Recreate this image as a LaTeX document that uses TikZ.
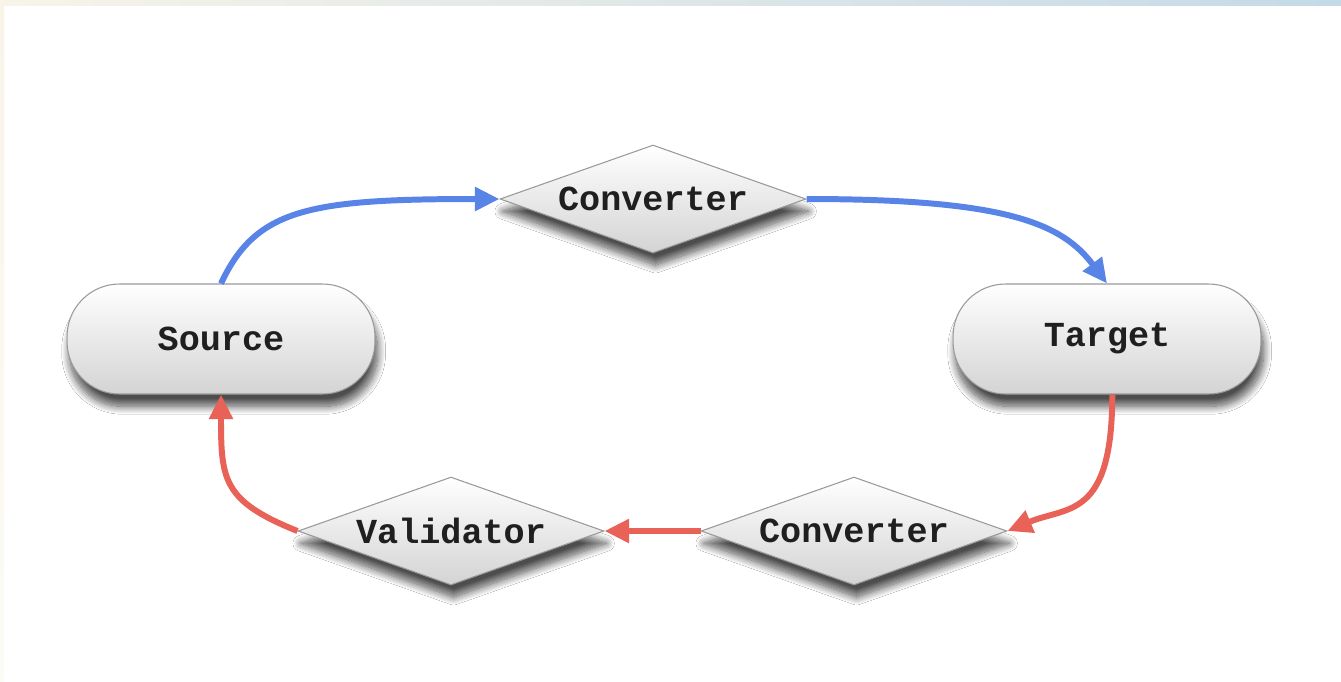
\documentclass[tikz,border=0pt]{standalone}
\usepackage{fontspec}
\setmonofont{Liberation Mono}
\usetikzlibrary{shapes.geometric, arrows.meta, shadows.blur}

\definecolor{azul}{RGB}{88,132,232}
\definecolor{vermelho}{RGB}{232,98,88}
\definecolor{creme}{RGB}{248,244,232}
\definecolor{celeste}{RGB}{196,218,232}

\begin{document}
\begin{tikzpicture}[x=0.02cm, y=-0.02cm,
    caixa/.style={draw=black!40, line width=0.6pt, top color=white, bottom color=black!17,
      blur shadow={shadow xshift=1.5pt, shadow yshift=-7pt, shadow opacity=70,
        shadow blur radius=4.5pt, shadow blur steps=14},
      font=\ttfamily\bfseries\fontsize{20}{24}\selectfont, text=black!88},
    extremo/.style={caixa, rectangle, rounded corners=1.05cm, minimum width=6.16cm, minimum height=2.2cm},
    etapa/.style={caixa, diamond, aspect=2.83, inner sep=0pt, minimum width=6.12cm, minimum height=2.16cm},
    fluxo/.style={line width=3.4pt, -{Triangle[length=14pt, width=13pt]}},
    ida/.style={fluxo, azul},
    volta/.style={fluxo, vermelho}]
  \useasboundingbox (0,0) rectangle (1341,681);

  % Moldura de fundo
  \fill[white] (0,0) rectangle (1341,681);
  \shade[left color=creme, right color=celeste] (0,0) rectangle (1341,5);
  \shade[top color=creme, bottom color=creme!40] (0,5) rectangle (4,681);

  % Nos
  \node[extremo] (src) at (221,339) {Source};
  \node[extremo] (tgt) at (1107,339) {Target};
  \node[etapa] (conv1) at (653,199) {Converter};
  \node[etapa] (conv2) at (854,531) {Converter};
  \node[etapa] (val) at (451,531) {Validator};

  % Caminho de ida
  \draw[ida] (src.north) .. controls +(35,-75) and +(-190,0) .. (conv1.west);
  \draw[ida] (conv1.east) .. controls +(200,0) and +(-45,-60) .. (tgt.north);

  % Caminho de volta
  \draw[volta] ([xshift=3pt]tgt.south) .. controls +(0,125) and +(60,-25) .. (conv2.east);
  \draw[volta] (conv2.west) -- (val.east);
  \draw[volta] (val.west) .. controls +(-75,-30) and +(0,85) .. (src.south);
\end{tikzpicture}
\end{document}
